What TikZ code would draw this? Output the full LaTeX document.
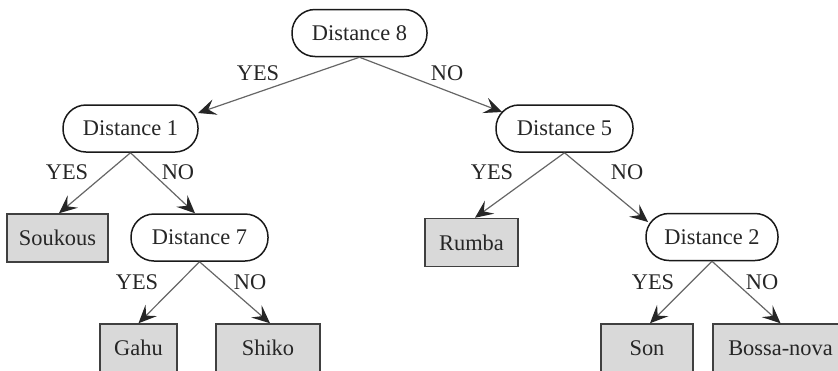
\documentclass[tikz,border=0pt]{standalone}
\usepackage{fontspec}
\setmainfont{Liberation Serif}
\usetikzlibrary{arrows.meta}

\tikzset{
  labelfont/.style={font=\fontsize{11.2}{13}\selectfont, text=black!85},
  decision/.style={labelfont, draw=black!90, line width=0.75pt, fill=white,
    rounded corners=11.5pt, minimum width=#1, minimum height=23.5pt,
    inner sep=0pt},
  leaf/.style={labelfont, draw=black!75, line width=0.75pt, fill=black!15,
    minimum width=#1, minimum height=24pt, inner sep=0pt},
  branch/.style={draw=black!60, line width=0.6pt,
    -{Stealth[length=9pt, width=8pt, inset=3.6pt, color=black!85]}},
  answer/.style={labelfont, inner sep=0pt}
}

\begin{document}
\begin{tikzpicture}[x=0.5pt, y=-0.5pt]
  \useasboundingbox (0,0) rectangle (838,370);
  \clip (0,0) rectangle (838,370);

  % decision nodes
  \node[decision=67.5pt] (d8) at (359.5,33) {Distance 8};
  \node[decision=67.5pt] (d1) at (130.5,128.5) {Distance 1};
  \node[decision=68.5pt] (d5) at (564.5,128.5) {Distance 5};
  \node[decision=68.5pt] (d7) at (199.5,237.5) {Distance 7};
  \node[decision=66pt]   (d2) at (712,237) {Distance 2};

  % leaves (genres)
  \node[leaf=50.5pt] (soukous) at (57.5,238)  {Soukous};
  \node[leaf=46.5pt] (rumba)   at (471.5,242.5) {Rumba};
  \node[leaf=38.5pt] (gahu)    at (138.5,348) {Gahu};
  \node[leaf=52pt]   (shiko)   at (268,348)   {Shiko};
  \node[leaf=46pt]   (son)     at (647,348)   {Son};
  \node[leaf=67.5pt] (bossa)   at (780.5,348) {Bossa-nova};

  % branches
  \draw[branch] (d8.south) -- ([shift={(67.5,-15.5)}]d1.center);
  \draw[branch] (d8.south) -- ([shift={(-62.5,-16.5)}]d5.center);
  \draw[branch] (d1.south) -- ([shift={(1.5,0)}]soukous.north);
  \draw[branch] (d1.south) -- ([shift={(-4.5,0)}]d7.north);
  \draw[branch] (d7.south) -- (gahu.north);
  \draw[branch] (d7.south) -- ([shift={(2,0)}]shiko.north);
  \draw[branch] (d5.south) -- ([shift={(3.5,0)}]rumba.north);
  \draw[branch] (d5.south) -- ([shift={(-64,-15)}]d2.center);
  \draw[branch] (d2.south) -- ([shift={(3,0)}]son.north);
  \draw[branch] (d2.south) -- (bossa.north);

  % branch answers
  \node[answer] (y8) at (258,73)  {YES};
  \node[answer] (n8) at (447,73)  {NO};
  \node[answer] (y1) at (67,172)  {YES};
  \node[answer] (n1) at (178,172) {NO};
  \node[answer] (y5) at (492,172) {YES};
  \node[answer] (n5) at (627,172) {NO};
  \node[answer] (y7) at (137,282) {YES};
  \node[answer] (n7) at (250,282) {NO};
  \node[answer] (y2) at (653,282) {YES};
  \node[answer] (n2) at (762,282) {NO};
\end{tikzpicture}
\end{document}
